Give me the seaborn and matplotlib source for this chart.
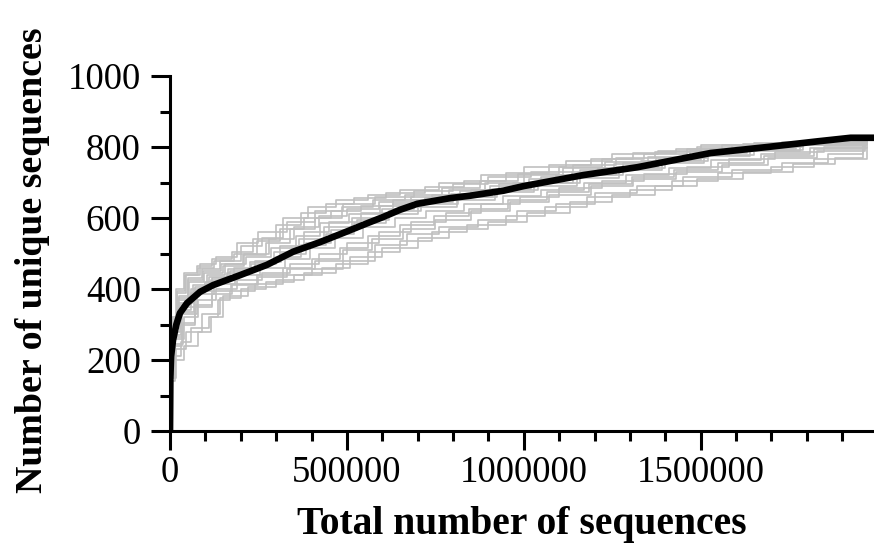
import matplotlib
matplotlib.use("Agg")
import matplotlib.pyplot as plt
from matplotlib.ticker import MultipleLocator, FuncFormatter
import seaborn as sns
import pandas as pd

# ---- data ----
# Black curve: full data set rarefaction
total_x = [0, 1000, 3000, 8500, 18000, 28000, 48000, 85000, 122000, 198000, 274000,
           348000, 424000, 500000, 557000, 603000, 650000, 699000, 792000, 850000, 943000,
           1000000, 1169000, 1321000, 1528000, 1689000, 1831000, 1924000, 1990000]
total_y = [0, 150, 210, 256, 300, 332, 360, 392, 411, 439, 468,
           505, 532, 562, 585, 603, 623, 640, 656, 663, 677,
           690, 721, 743, 783, 800, 816, 826, 826]

# Grey curves: replicate rarefactions (step curves)
rep_a_x = [0, 2000, 8000, 25000, 50000, 90000, 140000, 200000, 260000, 320000, 390000, 470000, 560000, 650000, 760000, 880000, 1000000, 1120000, 1250000, 1380000, 1500000, 1650000, 1800000, 1970000]
rep_a_y = [0, 180, 300, 380, 430, 455, 480, 520, 545, 600, 630, 650, 665, 680, 700, 720, 745, 760, 780, 790, 805, 812, 818, 822]
rep_b_x = [0, 3000, 12000, 30000, 60000, 110000, 150000, 220000, 300000, 380000, 470000, 560000, 650000, 740000, 840000, 950000, 1060000, 1180000, 1300000, 1420000, 1550000, 1700000, 1820000, 1970000]
rep_b_y = [0, 150, 210, 250, 290, 320, 380, 405, 425, 445, 470, 505, 535, 560, 580, 605, 630, 660, 680, 705, 727, 745, 765, 800]
rep_c_x = [0, 2000, 10000, 30000, 70000, 120000, 180000, 240000, 310000, 380000, 450000, 540000, 630000, 720000, 820000, 930000, 1050000, 1160000, 1280000, 1400000, 1520000, 1660000, 1790000, 1960000]
rep_c_y = [0, 200, 290, 350, 405, 430, 460, 480, 520, 560, 590, 615, 640, 655, 675, 695, 715, 735, 755, 770, 790, 800, 810, 815]
rep_d_x = [0, 4000, 15000, 40000, 80000, 130000, 190000, 260000, 340000, 420000, 500000, 590000, 680000, 780000, 880000, 990000, 1100000, 1220000, 1340000, 1460000, 1580000, 1710000, 1850000, 1965000]
rep_d_y = [0, 170, 260, 320, 370, 400, 425, 445, 470, 500, 530, 560, 590, 615, 640, 660, 685, 705, 725, 745, 765, 785, 800, 810]
rep_e_x = [0, 1000, 6000, 20000, 45000, 85000, 130000, 190000, 250000, 330000, 410000, 490000, 580000, 690000, 800000, 900000, 1020000, 1140000, 1260000, 1370000, 1490000, 1620000, 1760000, 1970000]
rep_e_y = [0, 190, 310, 390, 440, 470, 490, 530, 560, 590, 620, 640, 660, 675, 695, 715, 730, 750, 770, 785, 800, 808, 815, 820]
rep_f_x = [0, 3000, 15000, 40000, 80000, 115000, 135000, 170000, 240000, 320000, 400000, 490000, 580000, 670000, 760000, 870000, 980000, 1090000, 1200000, 1320000, 1450000, 1590000, 1730000, 1860000, 1960000]
rep_f_y = [0, 140, 200, 240, 280, 322, 370, 395, 415, 440, 455, 480, 525, 555, 575, 595, 620, 640, 670, 690, 715, 735, 755, 780, 805]
rep_g_x = [0, 2000, 9000, 28000, 60000, 100000, 160000, 230000, 300000, 370000, 440000, 520000, 610000, 700000, 810000, 920000, 1030000, 1150000, 1270000, 1390000, 1510000, 1640000, 1780000, 1960000]
rep_g_y = [0, 190, 280, 340, 390, 420, 445, 470, 490, 525, 555, 585, 610, 630, 650, 672, 690, 712, 735, 755, 775, 790, 805, 812]
rep_h_x = [0, 1000, 7000, 22000, 55000, 95000, 150000, 210000, 280000, 350000, 420000, 500000, 590000, 680000, 790000, 890000, 1000000, 1110000, 1230000, 1350000, 1470000, 1600000, 1740000, 1965000]
rep_h_y = [0, 210, 300, 370, 420, 445, 465, 500, 540, 575, 605, 625, 645, 660, 680, 700, 720, 740, 758, 772, 790, 800, 812, 818]
rep_i_x = [0, 3000, 14000, 35000, 70000, 120000, 175000, 250000, 330000, 410000, 490000, 570000, 660000, 750000, 850000, 960000, 1070000, 1190000, 1310000, 1430000, 1560000, 1690000, 1830000, 1965000]
rep_i_y = [0, 160, 240, 300, 350, 385, 410, 435, 455, 480, 510, 540, 570, 595, 620, 645, 665, 690, 710, 730, 750, 770, 790, 808]
rep_j_x = [0, 2000, 8000, 26000, 65000, 110000, 165000, 225000, 295000, 365000, 435000, 515000, 600000, 690000, 800000, 910000, 1020000, 1140000, 1260000, 1380000, 1500000, 1630000, 1770000, 1970000]
rep_j_y = [0, 200, 295, 360, 410, 435, 455, 475, 505, 540, 575, 600, 625, 645, 660, 682, 700, 722, 745, 762, 782, 795, 808, 816]
rep_k_x = [0, 1000, 5000, 18000, 40000, 75000, 120000, 175000, 235000, 300000, 370000, 440000, 520000, 610000, 720000, 830000, 950000, 1070000, 1190000, 1310000, 1430000, 1560000, 1700000, 1850000, 1970000]
rep_k_y = [0, 220, 320, 400, 445, 465, 485, 505, 540, 580, 615, 640, 655, 670, 688, 705, 728, 748, 765, 782, 795, 805, 812, 818, 822]
rep_l_x = [0, 4000, 18000, 45000, 90000, 140000, 200000, 270000, 350000, 430000, 510000, 600000, 700000, 790000, 900000, 1010000, 1130000, 1250000, 1370000, 1490000, 1620000, 1760000, 1880000, 1960000]
rep_l_y = [0, 150, 230, 280, 330, 375, 400, 420, 440, 460, 490, 515, 545, 570, 590, 615, 645, 665, 690, 710, 730, 752, 770, 800]
rep_m_x = [0, 2000, 10000, 32000, 75000, 125000, 185000, 255000, 325000, 395000, 465000, 545000, 635000, 725000, 830000, 940000, 1050000, 1170000, 1290000, 1410000, 1530000, 1670000, 1810000, 1970000]
rep_m_y = [0, 180, 270, 330, 385, 415, 440, 460, 485, 515, 545, 575, 600, 620, 640, 662, 680, 700, 722, 742, 762, 780, 798, 812]
rep_n_x = [0, 1000, 6000, 24000, 58000, 105000, 155000, 215000, 285000, 355000, 425000, 505000, 595000, 685000, 795000, 905000, 1015000, 1135000, 1255000, 1375000, 1495000, 1625000, 1765000, 1965000]
rep_n_y = [0, 200, 290, 355, 400, 440, 470, 490, 515, 550, 585, 610, 635, 650, 668, 690, 710, 730, 752, 768, 785, 798, 810, 817]
rep_o_x = [0, 2000, 11000, 33000, 68000, 115000, 170000, 240000, 315000, 385000, 455000, 530000, 620000, 710000, 815000, 925000, 1040000, 1160000, 1280000, 1400000, 1520000, 1650000, 1790000, 1970000]
rep_o_y = [0, 175, 265, 335, 395, 425, 450, 475, 500, 530, 565, 595, 620, 640, 660, 680, 700, 720, 742, 760, 778, 792, 806, 814]
rep_p_x = [0, 1000, 7000, 21000, 52000, 92000, 145000, 205000, 270000, 340000, 410000, 485000, 575000, 665000, 770000, 875000, 985000, 1100000, 1220000, 1340000, 1460000, 1590000, 1730000, 1970000]
rep_p_y = [0, 205, 305, 375, 425, 450, 470, 495, 530, 570, 600, 630, 650, 665, 685, 705, 725, 745, 765, 780, 795, 805, 814, 820]
rep_q_x = [0, 3000, 13000, 36000, 72000, 118000, 172000, 245000, 320000, 400000, 480000, 560000, 650000, 745000, 845000, 955000, 1065000, 1185000, 1305000, 1425000, 1550000, 1680000, 1820000, 1965000]
rep_q_y = [0, 160, 245, 305, 355, 395, 415, 440, 460, 485, 515, 550, 580, 605, 625, 650, 672, 695, 715, 735, 755, 775, 795, 808]
rep_r_x = [0, 1000, 5000, 19000, 42000, 80000, 125000, 180000, 245000, 310000, 380000, 455000, 540000, 630000, 740000, 850000, 970000, 1090000, 1210000, 1330000, 1450000, 1580000, 1720000, 1870000, 1970000]
rep_r_y = [0, 215, 315, 395, 440, 460, 480, 500, 535, 570, 600, 620, 635, 650, 665, 680, 700, 720, 740, 760, 778, 792, 805, 812, 818]

replicates = {
    "a": (rep_a_x, rep_a_y), "b": (rep_b_x, rep_b_y), "c": (rep_c_x, rep_c_y),
    "d": (rep_d_x, rep_d_y), "e": (rep_e_x, rep_e_y), "f": (rep_f_x, rep_f_y),
    "g": (rep_g_x, rep_g_y), "h": (rep_h_x, rep_h_y), "i": (rep_i_x, rep_i_y),
    "j": (rep_j_x, rep_j_y), "k": (rep_k_x, rep_k_y), "l": (rep_l_x, rep_l_y),
    "m": (rep_m_x, rep_m_y), "n": (rep_n_x, rep_n_y), "o": (rep_o_x, rep_o_y),
    "p": (rep_p_x, rep_p_y), "q": (rep_q_x, rep_q_y), "r": (rep_r_x, rep_r_y),
}

x_major_ticks = [0, 500000, 1000000, 1500000]
y_major_ticks = [0, 200, 400, 600, 800, 1000]

# ---- build tables ----
rows = []
for name, (xs, ys) in replicates.items():
    for xv, yv in zip(xs, ys):
        rows.append({"rep": name, "x": xv, "y": yv})
rep_df = pd.DataFrame(rows)
tot_df = pd.DataFrame({"x": total_x, "y": total_y})

# ---- plot ----
sns.set_style("ticks")
plt.rcParams["font.family"] = ["Liberation Serif", "DejaVu Serif"]
plt.rcParams["text.color"] = "black"
plt.rcParams["axes.labelcolor"] = "black"

fig = plt.figure(figsize=(8.74, 5.45), dpi=100)
ax = fig.add_axes([170 / 874, (545 - 431) / 545, (874 - 170) / 874, (431 - 76) / 545])

for name in replicates:
    sub = rep_df[rep_df["rep"] == name]
    sns.lineplot(data=sub, x="x", y="y", ax=ax, color="#c0c0c0", lw=1.2,
                 drawstyle="steps-post", estimator=None, sort=False, legend=False)

sns.lineplot(data=tot_df, x="x", y="y", ax=ax, color="black", lw=4.8,
             estimator=None, sort=False, legend=False)

ax.set_xlim(0, 1990000)
ax.set_ylim(0, 1000)
ax.set_xticks(x_major_ticks)
ax.set_yticks(y_major_ticks)
ax.xaxis.set_minor_locator(MultipleLocator(100000))
ax.yaxis.set_minor_locator(MultipleLocator(100))
ax.xaxis.set_major_formatter(FuncFormatter(lambda v, p: f"{int(v)}"))
ax.yaxis.set_major_formatter(FuncFormatter(lambda v, p: f"{int(v)}"))

sns.despine(ax=ax, top=True, right=True)
for s in ("left", "bottom"):
    ax.spines[s].set_linewidth(2.2)
    ax.spines[s].set_color("black")

ax.tick_params(axis="both", which="major", direction="out", length=14, width=2.2,
               labelsize=26.5, colors="black", pad=4)
ax.tick_params(axis="both", which="minor", direction="out", length=7, width=2.2,
               colors="black")
ax.tick_params(axis="y", which="major", pad=7)

ax.set_xlabel("Total number of sequences", fontsize=28.5, fontweight="bold", labelpad=11)
ax.set_ylabel("Number of unique sequences", fontsize=27.3, fontweight="bold")
ax.yaxis.set_label_coords(-0.17, 0.48)

fig.savefig("out.png", dpi=100)
